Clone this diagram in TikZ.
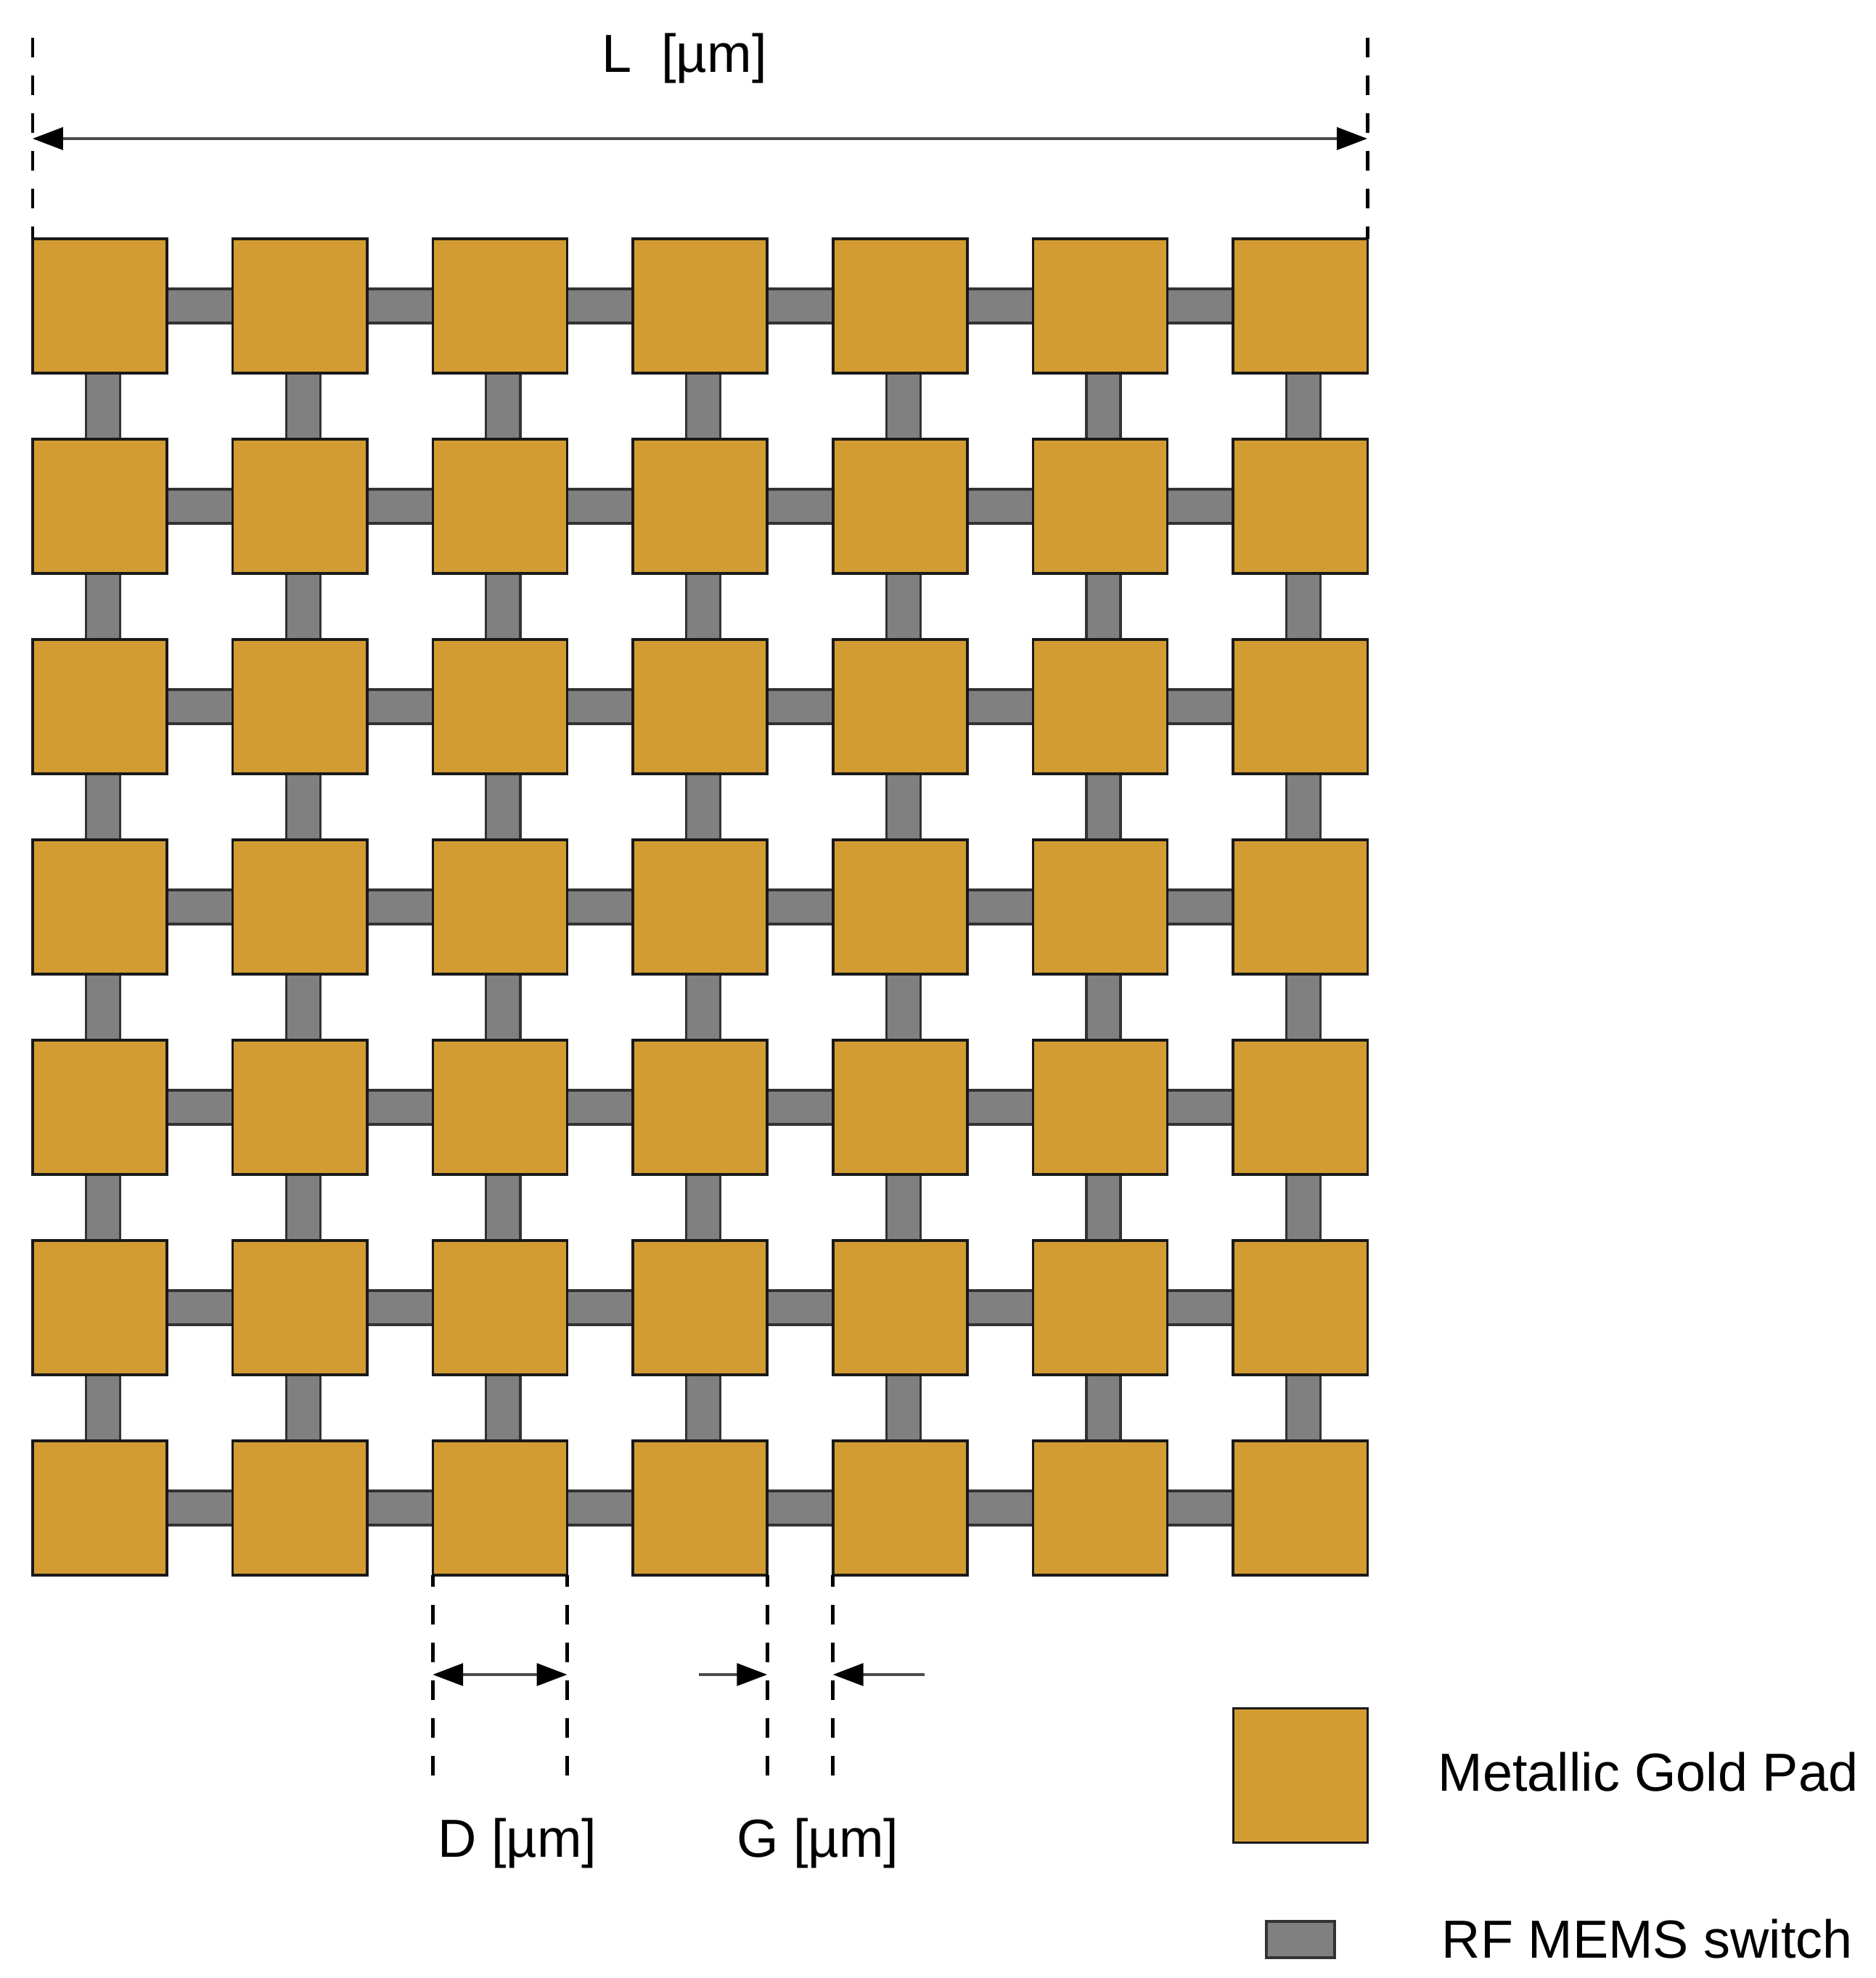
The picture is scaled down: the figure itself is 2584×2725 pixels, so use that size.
\documentclass[tikz,border=0pt]{standalone}
\usepackage{fontspec}
\setmainfont{Liberation Sans}
\usetikzlibrary{calc, backgrounds, arrows.meta}

\definecolor{padGold}{HTML}{D39C33}
\definecolor{swGray}{HTML}{808080}

\begin{document}
\begin{tikzpicture}[x=0.01cm, y=-0.01cm,
		pad/.style={draw=black!90, line width=1pt, fill=padGold, minimum size=1.85cm, inner sep=0pt, outer sep=0pt},
		hsw/.style={draw=black!80, line width=0.9pt, fill=swGray, minimum width=0.95cm, minimum height=0.47cm, inner sep=0pt},
		vsw/.style={hsw, minimum width=0.47cm, minimum height=0.95cm, xshift=0.045cm},
		guide/.style={line width=1.35pt, dash pattern=on 7.7pt off 7.1pt},
		dim/.style={black!70, line width=0.9pt},
		tip/.style={-{Triangle[length=11.9pt, width=8.8pt, black]}},
		tips/.style={{Triangle[length=11.9pt, width=8.8pt, black]}-{Triangle[length=11.9pt, width=8.8pt, black]}},
		lbl/.style={inner sep=0pt, font=\fontsize{21pt}{25pt}\selectfont}
	]
		\useasboundingbox (0,0) rectangle (2584,2725);
		% pads
		\foreach \i in {0,...,6}
		{\foreach \j in {0,...,6}
		{\node[pad] (p-\i-\j) at ({137.5+275.7*\i},{421.5+276*\j}) {};}}
		% switches
		\begin{scope}[on background layer]
		 \foreach \i in {0,...,5}
		 {\pgfmathtruncatemacro{\ii}{\i+1}
		 \foreach \j in {0,...,6}
		 {\node[hsw] (h-\i-\j) at ($(p-\i-\j.east)!0.5!(p-\ii-\j.west)$) {};
		  \node[vsw] (v-\j-\i) at ($(p-\j-\i.south)!0.5!(p-\j-\ii.north)$) {};}}
		\end{scope}
		% L
		\coordinate (lt) at (45,52);
		\coordinate (la) at (45,191);
		\coordinate (lb) at (1884,191);
		\draw[guide] (p-0-0.north west |- lt) -- (p-0-0.north west);
		\draw[guide] (p-6-0.north east |- lt) -- (p-6-0.north east);
		\draw[dim, tips] (la) -- (lb);
		\node[lbl, anchor=base] (lL) at (943,100) {L\ \ [µm]};
		% D and G
		\coordinate (db) at (0,2446);
		\coordinate (dy) at (0,2307);
		\foreach \p/\a in {p-2-6/south west, p-2-6/south east, p-3-6/south east, p-4-6/south west}
		{\draw[guide] (\p.\a |- db) -- (\p.\a);}
		\draw[dim, tips] (p-2-6.south west |- dy) -- (p-2-6.south east |- dy);
		\coordinate (ga) at (963,2307);
		\coordinate (gb) at (1274,2307);
		\draw[dim, tip] (ga) -- (p-3-6.south east |- dy);
		\draw[dim, tip] (gb) -- (p-4-6.south west |- dy);
		\node[lbl, anchor=base] (lD) at (713,2558) {D [µm]};
		\node[lbl, anchor=base] (lG) at (1127,2558) {G [µm]};
		% legend
		\node[pad] (kPad) at (1792,2446) {};
		\node[hsw, minimum width=0.94cm, minimum height=0.5cm] (kSw) at (1792,2672) {};
		\node[lbl, anchor=base west] (kPadTxt) at (1981,2467) {Metallic Gold Pad};
		\node[lbl, anchor=base west] (kSwTxt) at (1986,2697) {RF MEMS switch};
	\end{tikzpicture}
\end{document}
